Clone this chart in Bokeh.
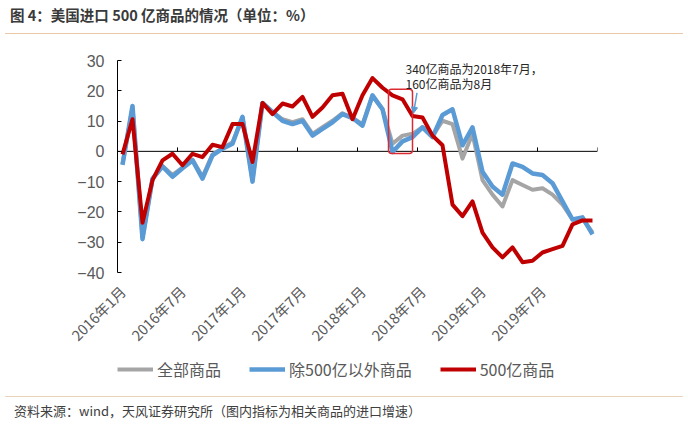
from bokeh.plotting import figure
from bokeh.models import (FixedTicker, Span, Legend, LegendItem, Label, BoxAnnotation,
                          Arrow, NormalHead, Div, ColumnDataSource)
from bokeh.layouts import column
from bokeh.embed import file_html
from bokeh.resources import INLINE
import math

# ---------------- data ----------------
months = [f"{y}年{m}月" for y in range(2016, 2020) for m in range(1, 13)]
tick_labels = ["2016年1月", "2016年7月", "2017年1月", "2017年7月",
               "2018年1月", "2018年7月", "2019年1月", "2019年7月"]

all_goods = [-4.2, 14.5, -28.5, -9.2, -4.8, -7.8, -5.4, -2.7, -8.4, -1.0, 1.0, 3.0,
             11.2, -9.5, 16.0, 13.0, 10.6, 9.6, 10.6, 5.8, 8.0, 10.1, 12.6, 11.0,
             9.0, 18.3, 14.0, 2.5, 5.2, 5.8, 8.0, 4.9, 10.1, 9.0, -2.4, 5.8,
             -9.5, -14.3, -18.2, -9.5, -11.1, -12.7, -12.2, -14.3, -17.6, -22.5, -22.2, -26.8]
ex_500 = [-4.5, 15.0, -29.0, -9.0, -5.0, -8.4, -5.6, -3.0, -9.0, -1.3, 0.9, 2.5,
          11.4, -10.0, 16.0, 13.0, 10.1, 9.0, 10.1, 5.2, 7.4, 9.6, 12.3, 11.0,
          8.5, 18.5, 13.9, -0.2, 3.3, 4.7, 7.9, 4.7, 12.0, 13.9, 2.0, 7.9,
          -6.7, -11.6, -14.3, -4.0, -5.1, -7.3, -7.8, -10.5, -16.5, -22.5, -21.8, -27.4]
goods_500 = [-1.0, 10.6, -23.6, -9.5, -3.0, -0.8, -4.6, -0.8, -1.9, 2.2, 1.4, 9.0,
             9.0, -3.5, 16.0, 12.3, 15.8, 14.8, 18.0, 11.4, 14.5, 18.5, 19.0, 10.6,
             18.5, 24.2, 21.0, 18.5, 17.2, 11.7, 11.2, 5.2, 2.0, -17.6, -21.4, -16.5,
             -26.8, -31.7, -35.0, -31.7, -36.6, -36.1, -33.4, -32.3, -31.2, -24.1, -22.8, -22.8]
series_names = ["全部商品", "除500亿以外商品", "500亿商品"]
series_colors = ["#A5A5A5", "#5B9BD5", "#C00000"]
series_widths = [4, 4.5, 4]
y_ticks = [30, 20, 10, 0, -10, -20, -30, -40]

# ---------------- main figure ----------------
n = len(months)
xs = [i + 0.5 for i in range(n)]
src = ColumnDataSource(dict(x=xs, a=all_goods, b=ex_500, c=goods_500))
cols = ["a", "b", "c"]

p = figure(width=672, height=316, x_range=(0, n), y_range=(-40, 30),
           output_backend="svg", toolbar_location=None,
           min_border_left=117, min_border_right=75, min_border_top=21, min_border_bottom=80)
p.outline_line_color = None
p.xgrid.visible = False
p.ygrid.visible = False
p.background_fill_color = "white"
p.border_fill_color = "white"

# zero line and its boundary ticks
p.add_layout(Span(location=0, dimension="width", line_color="#000000", line_width=1, level="underlay"))
bounds = [i * 6 for i in range(n // 6 + 1)]
p.segment(x0=bounds, x1=bounds, y0=[0] * len(bounds), y1=[1.3] * len(bounds),
          line_color="#000000", line_width=1, level="underlay")

for col, c, w in zip(cols, series_colors, series_widths):
    p.line("x", col, source=src, line_color=c, line_width=w, line_join="round")

# y axis
ya = p.yaxis[0]
ya.ticker = FixedTicker(ticks=y_ticks)
ya.major_label_overrides = {t: (str(t) if t >= 0 else "\u2212" + str(-t)) for t in y_ticks}
ya.axis_line_color = "#000000"
ya.major_tick_line_color = "#000000"
ya.major_tick_in = 4
ya.major_tick_out = 0
ya.minor_tick_line_color = None
ya.major_label_text_font = "Liberation Sans"
ya.major_label_text_font_size = "16px"
ya.major_label_text_color = "#595959"
ya.major_label_standoff = 13

# x axis (labels only, at bottom)
xa = p.xaxis[0]
tick_pos = [i + 0.5 for i in range(0, n, 6)]
xa.ticker = FixedTicker(ticks=tick_pos)
xa.major_label_overrides = {t: lab for t, lab in zip(tick_pos, tick_labels)}
xa.axis_line_color = None
xa.major_tick_line_color = None
xa.minor_tick_line_color = None
xa.major_tick_out = 0
xa.major_tick_in = 0
xa.major_label_orientation = math.pi / 4
xa.major_label_standoff = 16
xa.major_label_text_font = "Noto Sans CJK SC"
xa.major_label_text_font_size = "14.5px"
xa.major_label_text_color = "#595959"

# annotation: box, arrow, note
p.add_layout(BoxAnnotation(left=27.1, right=29.5, bottom=-0.7, top=20.5,
                           fill_alpha=0, line_color="#DC2A33", line_alpha=1, line_width=1.5,
                           border_radius=3))
p.add_layout(Arrow(x_start=29.95, y_start=19.3, x_end=29.6, y_end=12.6,
                   line_color="#5B9BD5", line_width=1.5,
                   end=NormalHead(size=6, fill_color="#5B9BD5", line_color="#5B9BD5")))
p.add_layout(Label(x=28.8, y=27.3, text="340亿商品为2018年7月，", text_baseline="middle",
                   text_font="Noto Sans CJK SC", text_font_size="12px", text_color="#262626"))
p.add_layout(Label(x=28.8, y=22.4, text="160亿商品为8月", text_baseline="middle",
                   text_font="Noto Sans CJK SC", text_font_size="12px", text_color="#262626"))

# ---------------- legend strip (same series, shown only as legend keys) ----------------
pl = figure(width=672, height=36, x_range=(0, n), y_range=(100, 101),
            output_backend="svg", toolbar_location=None,
            x_axis_location=None, y_axis_location=None,
            min_border_left=117, min_border_right=75, min_border_top=0, min_border_bottom=0)
pl.outline_line_color = None
pl.xgrid.visible = False
pl.ygrid.visible = False
pl.background_fill_color = "white"
pl.border_fill_color = "white"
items = []
for name, col, c, w in zip(series_names, cols, series_colors, series_widths):
    r = pl.line("x", col, source=src, line_color=c, line_width=w)
    items.append(LegendItem(label=name, renderers=[r]))
legend = Legend(items=items, orientation="horizontal", location=(0, 10),
                glyph_width=36, glyph_height=18, label_standoff=4, spacing=28,
                padding=0, margin=0, border_line_color=None, background_fill_alpha=0,
                label_text_font="Noto Sans CJK SC", label_text_font_size="16px",
                label_text_color="#595959")
pl.add_layout(legend, "center")

title = Div(text="图 4：美国进口 500 亿商品的情况（单位：%）", width=678, height=29,
            styles={"font-family": "Noto Sans CJK SC", "font-size": "14.5px", "font-weight": "bold",
                    "color": "#3a3a3a", "border-bottom": "1.5px solid #E9C9A6",
                    "padding-left": "5px", "box-sizing": "border-box", "line-height": "20px"})
source = Div(text="资料来源：wind，天风证券研究所（图内指标为相关商品的进口增速）", width=678, height=26,
             styles={"font-family": "Noto Sans CJK SC", "font-size": "13px", "color": "#404040",
                     "border-top": "1.5px solid #EBD3BA", "padding-left": "9px", "padding-top": "5px",
                     "box-sizing": "border-box"})

layout = column(title, p, pl, source, spacing=0)
open("out.html", "w").write(file_html(layout, INLINE))
